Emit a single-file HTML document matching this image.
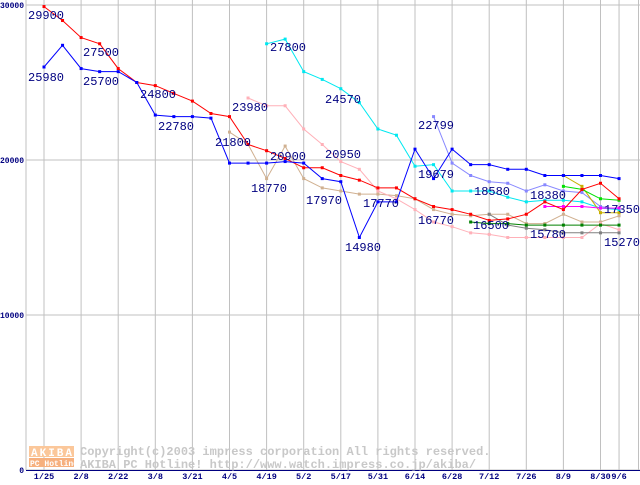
<!DOCTYPE html>
<html><head><meta charset="utf-8"><style>
body{margin:0;background:#fff;}
svg text{font-family:"Liberation Mono","DejaVu Sans Mono",monospace;}
</style></head><body>
<svg id="chart" width="640" height="480" xmlns="http://www.w3.org/2000/svg">
<g id="grid"></g>
<g>
<rect x="29" y="446" width="45" height="11" fill="#fbc79a"/>
<text x="31" y="456" font-size="11" font-weight="bold" fill="#fff" letter-spacing="2">AKIBA</text>
<rect x="29" y="458" width="45" height="9" fill="#f6b07e"/>
<text x="30" y="466" font-size="8" font-weight="bold" fill="#fff">PC Hotline!</text>
<text x="80" y="455" font-size="12" font-weight="bold" fill="#c8c8c8">Copyright(c)2003 impress corporation All rights reserved.</text>
<text x="80" y="468" font-size="12" font-weight="bold" fill="#c8c8c8">AKIBA PC Hotline!  http://www.watch.impress.co.jp/akiba/</text>
</g>
<g id="series"></g>
<g id="labels"></g>
</svg>
<script>
const dates=["1/25","2/8","2/22","3/8","3/21","4/5","4/19","5/2","5/17","5/31","6/14","6/28","7/12","7/26","8/9","8/30","9/6"];
const dateIdx=[0,2,4,6,8,10,12,14,16,18,20,22,24,26,28,30,31];
const yTicks=[0,10000,20000,30000];
const redStart=0;
const redVals=[29900,29000,27900,27500,25900,25000,24800,24300,23800,23000,22800,21000,20600,20100,19500,19500,19000,18700,18200,18200,17500,17000,16800,16500,16100,16200,16500,17300,16800,18100,18500,17500];
const blueStart=0;
const blueVals=[26000,27400,25900,25700,25700,25000,22900,22800,22800,22700,19800,19800,19800,19900,19800,18800,18600,15000,17300,17300,20700,18800,20700,19700,19700,19400,19400,19000,19000,19000,19000,18800];
const cyanStart=12;
const cyanVals=[27500,27800,25700,25200,24600,23700,22000,21600,19600,19700,18000,18000,18000,17600,17300,17400,17400,17300,16900,16800];
const lavStart=21;
const lavVals=[22800,19800,19000,18600,18500,18000,18400,18000,17900,17000,16800];
const pinkStart=11;
const pinkVals=[24000,23500,23500,22000,21000,19900,19400,18000,17500,16800,16000,15700,15300,15200,15000,15000,15000,15000,15000,15900,15500];
const tanStart=10;
const tanVals=[21800,21000,18800,20900,18800,18200,18000,17800,17800,17700,17500,16800,16500,16400,16500,16500,15900,15900,16500,16000,16000,16400];
const dgreenStart=23;
const dgreenVals=[16000,15900,15900,15800,15800,15800,15800,15800,15800];
const grayStart=24;
const grayVals=[16500,15800,15600,15500,15300,15300,15300,15300];
const magStart=27;
const magVals=[17000,17000,17000,16900,16900];
const greenStart=28;
const greenVals=[18300,18100,17500,17400];
const oliveStart=28;
const oliveVals=[19000,18300,16600,16600];

const NS="http://www.w3.org/2000/svg";
const X=i=>44+i*18.55;
const Y=v=>470-v*155/10000;
function mk(tag,attrs,parent){const e=document.createElementNS(NS,tag);for(const k in attrs)e.setAttribute(k,attrs[k]);parent.appendChild(e);return e;}
const grid=document.getElementById('grid');
yTicks.forEach(t=>{
  const l=mk('line',{x1:26,x2:640,y1:Y(t),y2:Y(t),stroke:'#c0c0c0','stroke-width':1},grid);
  
  
  const tx=mk('text',{x:24,y:Y(t)+3,'font-size':8,'font-weight':'bold',fill:'#000080','text-anchor':'end'},grid);
  tx.textContent=t;
  
  
});
mk('line',{x1:26,x2:26,y1:0,y2:470,stroke:'#c0c0c0'},grid);
mk('line',{x1:638.5,x2:638.5,y1:0,y2:470,stroke:'#c0c0c0'},grid);
dates.forEach((d,k)=>{
  const x=X(dateIdx[k]);
  const l=mk('line',{x1:x,x2:x,y1:0,y2:470,stroke:'#c0c0c0'},grid);
  
  
  const tx=mk('text',{x:x,y:479,'font-size':8.5,'font-weight':'bold',fill:'#000080','text-anchor':'middle'},grid);
  tx.textContent=d;
  
  
});
mk('line',{x1:26,x2:640,y1:470.5,y2:470.5,stroke:'#000080'},grid);
const sg=document.getElementById('series');
function series(name,start,vals,color){
  const g=mk('g',{},sg);
  
  
  const pts=vals.map((v,j)=>X(start+j).toFixed(1)+','+Y(v).toFixed(1)).join(' ');
  mk('polyline',{points:pts,fill:'none',stroke:color,'stroke-width':1},g);
  vals.forEach((v,j)=>{
    const r=mk('rect',{x:X(start+j)-1.5,y:Y(v)-1.5,width:3,height:3,fill:color},g);
    
    
  });
}
series('series-tan',tanStart,tanVals,'#d0b090');
series('series-pink',pinkStart,pinkVals,'#ffb0b8');
series('series-lavender',lavStart,lavVals,'#8888ff');
series('series-cyan',cyanStart,cyanVals,'#00e8f0');
series('series-gray',grayStart,grayVals,'#808080');
series('series-dark-green',dgreenStart,dgreenVals,'#008000');
series('series-olive',oliveStart,oliveVals,'#c8b000');
series('series-green',greenStart,greenVals,'#00e000');
series('series-magenta',magStart,magVals,'#ff00ff');
series('series-red',redStart,redVals,'#ff0000');
series('series-blue',blueStart,blueVals,'#0000ff');
const labelTexts=["29900","25980","27500","25700","24800","22780","21800","23980","20900","18770","27800","24570","20950","17970","17770","14980","22799","19679","16770","18580","16500","18380","15780","17350","15270"];
const labelPos=[[28,19],[28,81],[83,56],[83,85],[140,98],[158,130],[215,146],[232,111],[270,160],[251,192],[270,51],[325,103],[325,158],[306,204],[363,207],[345,251],[418,129],[418,178],[418,224],[474,195],[473,229],[530,199],[530,238],[604,213],[604,246]];
const lg=document.getElementById('labels');
labelTexts.forEach((t,k)=>{
  const tx=mk('text',{x:labelPos[k][0],y:labelPos[k][1],'font-size':12,fill:'#000080','font-family':'"Liberation Sans",sans-serif'},lg);
  tx.textContent=t;
  
  
});
</script>
</body></html>
